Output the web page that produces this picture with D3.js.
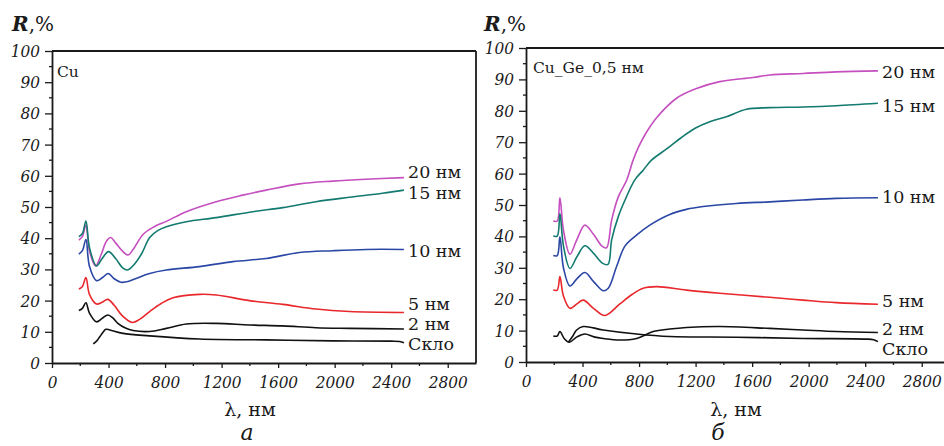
<!DOCTYPE html>
<html><head><meta charset="utf-8">
<script src="https://cdn.jsdelivr.net/npm/d3@7"></script>
<style>body{margin:0;background:#fff}svg{display:block}
.tk text{font-family:"DejaVu Serif Condensed","DejaVu Serif",serif;font-stretch:condensed;font-style:italic;font-size:17px}
</style>
</head><body><svg id="c" width="944" height="446"></svg>
<script>
// ---- data ----
const yTicks = [0,10,20,30,40,50,60,70,80,90,100];
const xTicks = [0,400,800,1200,1600,2000,2400,2800];
const seriesNames = ["20 нм","15 нм","10 нм","5 нм","2 нм","Скло"];
const seriesColors = ["#c54fbf","#127a6f","#2b47a6","#e8282c","#111111","#111111"];
const panelTitles = ["Cu","Cu_Ge_0,5 нм"];
const panelLetters = ["а","б"];

const cu20 = [[190,39.4],[215,40.5],[240,44.2],[265,36],[308,31.1],[350,35],[385,39],[416,40.2],[450,38.5],[500,35.8],[538,34.6],[580,36.8],[644,41.2],[720,43.6],[809,45.4],[950,48.5],[1162,51.7],[1350,53.8],[1515,55.4],[1750,57.4],[1987,58.3],[2222,58.9],[2490,59.4]];
const cu15 = [[190,40.5],[215,41.5],[240,45.5],[265,37],[315,31.1],[355,33.5],[400,35.7],[450,33.5],[500,30.5],[535,29.8],[580,31.5],[635,35.1],[691,40.2],[750,42.5],[809,43.7],[950,45.3],[1162,46.6],[1421,48.5],[1633,49.8],[1868,51.7],[2104,53.1],[2339,54.4],[2490,55.4]];
const cu10 = [[190,34.9],[215,36],[240,39.6],[265,31],[315,26.4],[360,27.5],[398,28.7],[440,27],[487,25.9],[538,26.1],[600,27.2],[691,28.7],[809,29.8],[1044,30.9],[1280,32.5],[1515,33.5],[1750,35.4],[1987,36.0],[2222,36.4],[2490,36.4]];
const cu5 = [[190,23.7],[215,24.5],[240,27.4],[265,22],[315,18.9],[355,19.5],[395,20.4],[440,18.5],[500,15],[568,13.0],[620,14],[691,16.5],[770,19],[856,20.9],[1044,22.0],[1162,21.8],[1397,20.0],[1633,18.8],[1868,17.3],[2104,16.5],[2490,16.2]];
const cu2 = [[190,16.8],[215,17.5],[240,19.3],[265,16],[315,13.2],[355,14.3],[395,15.4],[430,14.5],[466,12.7],[520,11.2],[574,10.4],[691,10.1],[809,11.1],[950,12.5],[1162,12.7],[1397,12.2],[1633,11.9],[1868,11.3],[2104,11.1],[2490,10.9]];
const cuGlass = [[292,6.1],[315,7],[338,8.4],[360,9.8],[381,10.8],[409,10.6],[503,9.5],[691,8.7],[1044,7.7],[1515,7.4],[1987,7.1],[2400,7.0],[2460,6.9],[2490,6.5]];

const ge20 = [[193,44.9],[221,44.9],[240,52.3],[265,42],[311,34.3],[360,39],[417,43.6],[480,40.5],[540,36.8],[570,36.4],[606,45.2],[653,52.6],[712,57.9],[758,64.3],[800,68.8],[850,73],[924,77.8],[1065,84.0],[1206,87.1],[1371,89.3],[1606,90.6],[1724,91.4],[1960,91.9],[2195,92.4],[2490,92.7]];
const ge15 = [[193,40.1],[221,40.1],[240,47.3],[265,37],[311,29.8],[360,33.5],[417,37.0],[480,34.5],[540,31.5],[580,31.1],[606,38.9],[653,46.3],[700,51.5],[770,58.0],[829,61.1],[888,64.3],[1000,68],[1100,71.5],[1200,74.5],[1300,76.5],[1418,78.1],[1560,80.5],[1724,81.0],[1960,81.2],[2195,81.6],[2490,82.4]];
const ge10 = [[193,33.9],[221,33.9],[240,39.9],[265,30],[311,24.2],[360,26.5],[417,28.5],[480,25.5],[546,22.7],[582,23.5],[641,30.4],[700,36.9],[782,40.4],[876,43.6],[1017,47.0],[1135,48.6],[1253,49.5],[1488,50.5],[1724,51.0],[1960,51.6],[2195,52.1],[2490,52.3]];
const ge5 = [[193,22.9],[221,22.9],[240,27.2],[265,21],[311,17.1],[360,18.5],[405,19.7],[480,17],[558,14.8],[664,18.5],[750,21.5],[829,23.5],[923,24.0],[1135,22.9],[1370,21.9],[1724,20.6],[1960,19.7],[2195,18.9],[2490,18.4]];
const ge2 = [[193,8.3],[221,8.3],[240,9.7],[270,7.5],[306,6.3],[360,8],[417,8.9],[480,8],[546,7.5],[664,7.0],[782,7.5],[900,9.7],[1017,10.5],[1135,11.0],[1370,11.3],[1724,10.7],[1960,10.2],[2195,9.7],[2490,9.4]];
const geGlass = [[300,6.3],[330,8.2],[358,10.2],[405,11.3],[546,10.2],[782,8.9],[1017,8.1],[1488,7.9],[1960,7.5],[2400,7.3],[2460,7.1],[2490,6.5]];

const panelSeries = [[cu20,cu15,cu10,cu5,cu2,cuGlass],[ge20,ge15,ge10,ge5,ge2,geGlass]];

// ---- layout ----
const panels = [
  {left:52, right:476, top:51, bottom:363, labelY:[178,199,257,310,330,350], labelX:408, titleX:57, titleY:77, rX:12, axX:250, letX:247},
  {left:526, right:950, top:48, bottom:362, labelY:[78,112,203,307,335,355], labelX:882, titleX:533, titleY:73, rX:484, axX:736, letX:718}
];

const svg = d3.select("#c");
svg.append("rect").attr("width",944).attr("height",446).attr("fill","#fff");
const ink = "#1a1a1a";
const serif = "'DejaVu Serif', serif";

panels.forEach((p, pi) => {
  const x = d3.scaleLinear().domain([0,3000]).range([p.left,p.right]);
  const y = d3.scaleLinear().domain([0,100]).range([p.bottom,p.top]);
  const g = svg.append("g");

  // minor ticks
  const yMinor = d3.range(5,100,10);
  g.selectAll(".ym").data(yMinor).join("line")
    .attr("x1",p.left-3).attr("x2",p.left).attr("y1",d=>y(d)).attr("y2",d=>y(d))
    .attr("stroke",ink).attr("stroke-width",1.3);
  const xMinor = d3.range(200,3000,400);
  g.selectAll(".xm").data(xMinor).join("line")
    .attr("x1",d=>x(d)).attr("x2",d=>x(d)).attr("y1",p.bottom).attr("y2",p.bottom+3)
    .attr("stroke",ink).attr("stroke-width",1.3);

  // axes
  const fmt = d3.format("d");
  const yAxis = d3.axisLeft(y).tickValues(yTicks).tickFormat(fmt).tickSize(7).tickPadding(5).tickSizeOuter(0);
  const ya = g.append("g").attr("class","tk").attr("transform",`translate(${p.left},0)`).call(yAxis);
  const xAxis = d3.axisBottom(x).tickValues(xTicks).tickFormat(fmt).tickSize(5).tickPadding(8).tickSizeOuter(0);
  const xa = g.append("g").attr("class","tk").attr("transform",`translate(0,${p.bottom})`).call(xAxis);
  [ya,xa].forEach(a=>{
    a.attr("font-family",null).attr("font-size",null);
    a.select(".domain").attr("stroke",ink).attr("stroke-width",1.8);
    a.selectAll(".tick line").attr("stroke",ink).attr("stroke-width",1.3);
    a.selectAll(".tick text").attr("fill",ink);
  });
  // frame top & right
  g.append("line").attr("x1",p.left).attr("x2",p.right).attr("y1",p.top).attr("y2",p.top)
    .attr("stroke",ink).attr("stroke-width",1.8);
  g.append("line").attr("x1",p.right).attr("x2",p.right).attr("y1",p.top).attr("y2",p.bottom)
    .attr("stroke",ink).attr("stroke-width",1.8);

  // lines
  const line = d3.line().x(d=>x(d[0])).y(d=>y(d[1])).curve(d3.curveCatmullRom.alpha(0.5));
  panelSeries[pi].forEach((s, si) => {
    g.append("path").datum(s).attr("d",line).attr("fill","none")
      .attr("stroke",seriesColors[si]).attr("stroke-width",1.6).attr("stroke-linejoin","round");
  });

  // series labels
  seriesNames.forEach((n, si) => {
    g.append("text").attr("x",p.labelX).attr("y",p.labelY[si]).text(n)
      .attr("fill",ink).style("font-family",serif).style("font-size","17.5px");
  });

  // title
  g.append("text").attr("x",p.titleX).attr("y",p.titleY).text(panelTitles[pi])
    .attr("fill",ink).style("font-family",serif).style("font-size","15.5px");

  // R,%
  const rt = g.append("text").attr("x",p.rX).attr("y",31).attr("fill",ink)
    .style("font-family",serif).style("font-size","20px");
  rt.append("tspan").text("R").style("font-style","italic").style("font-weight","bold");
  rt.append("tspan").text(",%");

  // x label
  g.append("text").attr("x",p.axX).attr("y",416).attr("text-anchor","middle").text("λ, нм")
    .attr("fill",ink).style("font-family",serif).style("font-size","19px");
  g.append("text").attr("x",p.letX).attr("y",440).attr("text-anchor","middle").text(panelLetters[pi])
    .attr("fill",ink).style("font-family",serif).style("font-style","italic").style("font-size","22px");
});
</script>
</body></html>
